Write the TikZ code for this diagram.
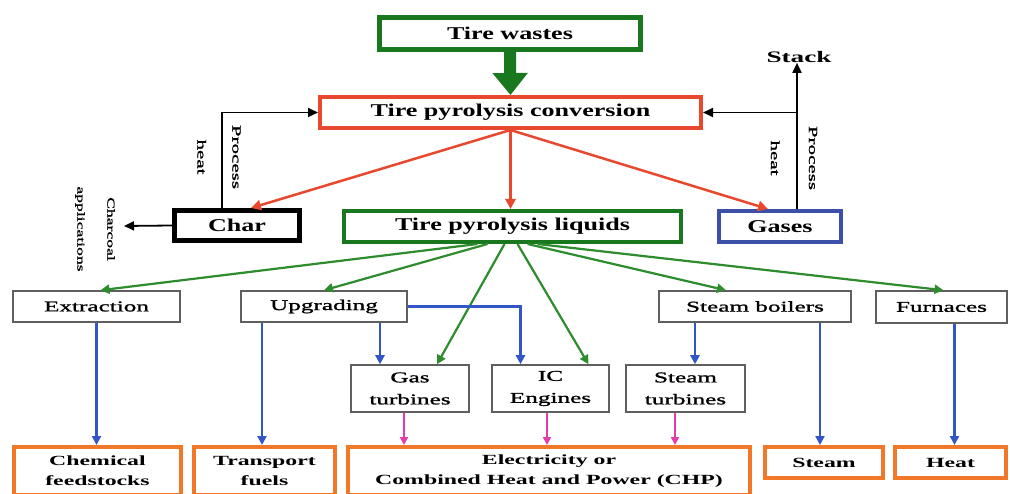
\documentclass[tikz,border=0pt]{standalone}
\usepackage{fontspec}
\setmainfont{Liberation Serif}
\newfontfamily\lowfont{Liberation Serif}[FakeStretch=1.7]
\newfontfamily\midfont{Liberation Serif}[FakeStretch=1.68, FakeBold=1.3]
\newfontfamily\topfont{Liberation Serif}[FakeStretch=1.45]
\usetikzlibrary{arrows.meta}
\definecolor{cgreen}{RGB}{25,120,30}
\definecolor{cbgreen}{RGB}{45,140,45}
\definecolor{cred}{RGB}{232,72,45}
\definecolor{cblue}{RGB}{60,80,170}
\definecolor{corange}{RGB}{240,120,40}
\definecolor{cpink}{RGB}{228,60,170}
\definecolor{carrblue}{RGB}{50,85,200}
\definecolor{cgray}{RGB}{95,95,95}
\tikzset{
  sz/.style 2 args={minimum width=#1pt, minimum height=#2pt},
  box/.style={draw, inner sep=0pt, align=center},
  topbox/.style={box, line width=4pt, font=\topfont\bfseries\fontsize{18}{20}\selectfont},
  midbox/.style={box, draw=cgray, line width=1.5pt, font=\midfont\fontsize{15}{22}\selectfont},
  botbox/.style={box, draw=corange, line width=4pt, font=\lowfont\bfseries\fontsize{14}{20}\selectfont},
  lbl/.style={inner sep=0pt, align=center},
  garr/.style={draw=cbgreen, line width=2.2pt, -{Triangle[length=9pt,width=9pt]}},
  rarr/.style={draw=cred, line width=2.5pt, -{Triangle[length=10pt,width=10pt]}},
  karr/.style={draw=black, line width=1.8pt, -{Triangle[length=10pt,width=9pt]}},
  barr/.style={draw=carrblue, line width=2.2pt, -{Triangle[length=9pt,width=9pt]}},
  parr/.style={draw=cpink, line width=2pt, -{Triangle[length=8pt,width=8pt]}},
}
\begin{document}
\begin{tikzpicture}[x=1pt, y=-1pt]
\useasboundingbox (0,0) rectangle (1010,494);
\fill[white] (0,0) rectangle (1010,494);
\clip (0,0) rectangle (1010,494);

% top level
\node[topbox, draw=cgreen, line width=5pt, sz={261}{32}] (tw) at (510,33.5) {Tire wastes};
\node[topbox, draw=cred, sz={381}{31}] (conv) at (510.5,112.5) {Tire pyrolysis conversion};
\node[topbox, draw=black, line width=5pt, sz={125}{30}] (char) at (237,225.5) {Char};
\node[topbox, draw=cgreen, sz={337}{31}] (liq) at (512.5,226.5) {Tire pyrolysis liquids};
\node[topbox, draw=cblue, sz={122}{31}] (gas) at (780,226.5) {Gases};

% second tier
\node[midbox, sz={167}{31}] (ext) at (96.5,306.5) {Extraction};
\node[midbox, sz={166}{31}] (upg) at (324,306.5) {Upgrading};
\node[midbox, sz={192}{31}] (sb) at (755,306.5) {Steam boilers};
\node[midbox, sz={131}{32}] (fur) at (941.5,307) {Furnaces};

% third tier
\node[midbox, sz={118}{47}] (gt) at (410,388.5) {Gas\\turbines};
\node[midbox, sz={117}{47}] (ic) at (550.5,388.5) {IC\\Engines};
\node[midbox, sz={119}{47}] (st) at (685.5,388.5) {Steam\\turbines};

% bottom
\node[botbox, sz={167}{48}] (chem) at (97.5,471) {Chemical\\feedstocks};
\node[botbox, sz={141}{48}] (tpf) at (264.5,471) {Transport\\fuels};
\node[botbox, sz={402}{48}] (elec) at (549,471) {Electricity or\\Combined Heat and Power (CHP)};
\node[botbox, sz={118}{31}] (steam) at (824,462.5) {Steam};
\node[botbox, sz={111}{31}] (heat) at (950.5,462.5) {Heat};

% labels
\node[lbl, font=\lowfont\bfseries\fontsize{16}{18}\selectfont] (stack) at (799,57) {Stack};
\node[lbl, rotate=-90, font=\midfont\fontsize{12.5}{35}\selectfont] (ph1) at (219,157) {Process\\heat};
\node[lbl, rotate=-90, font=\midfont\fontsize{12.5}{38}\selectfont] (ph2) at (794,158) {Process\\heat};
\node[lbl, rotate=-90, font=\midfont\fontsize{10.5}{30}\selectfont] (capl) at (95,229) {Charcoal\\applications};
\coordinate (capp) at (124,226);

% connectors
\draw[cgreen, line width=12pt, -{Triangle[length=22pt,width=34pt]}] (tw.south) -- (conv.north);

\draw[rarr] (conv.south) -- ([xshift=14pt]char.north);
\draw[rarr] (conv.south) -- (conv.south |- liq.north);
\draw[rarr] (conv.south) -- ([xshift=-12pt]gas.north);

\draw[karr] ([xshift=-15pt]char.north) |- (conv.west);
\draw[karr] ([xshift=17pt]gas.north) -- ([xshift=17pt]gas.north |- stack.south);
\draw[karr] ([xshift=17pt]gas.north |- conv.east) -- (conv.east);
\draw[karr] (char.west) -- (capp);

\draw[garr] ([xshift=-35pt]liq.south) -- ([xshift=4pt]ext.north);
\draw[garr] ([xshift=-25pt]liq.south) -- (upg.north);
\draw[garr] ([xshift=-8pt]liq.south) -- ([xshift=27pt]gt.north);
\draw[garr] ([xshift=5pt]liq.south) -- ([xshift=38pt]ic.north);
\draw[garr] ([xshift=15pt]liq.south) -- ([xshift=-29pt]sb.north);
\draw[garr] ([xshift=25pt]liq.south) -- ([xshift=2pt]fur.north);

\draw[barr] (ext.south) -- (ext.south |- chem.north);
\draw[barr] ([xshift=-62pt]upg.south) -- ([xshift=-62pt]upg.south |- tpf.north);
\draw[barr] ([xshift=56pt]upg.south) -- ([xshift=56pt]upg.south |- gt.north);
\draw[barr] (upg.east) -| ([xshift=-30pt]ic.north);
\draw[barr] ([xshift=-60pt]sb.south) -- ([xshift=-60pt]sb.south |- st.north);
\draw[barr] ([xshift=65pt]sb.south) -- ([xshift=65pt]sb.south |- steam.north);
\draw[barr] ([xshift=13pt]fur.south) -- ([xshift=13pt]fur.south |- heat.north);

\draw[parr] ([xshift=-6pt]gt.south) -- ([xshift=-6pt]gt.south |- elec.north);
\draw[parr] ([xshift=-3.5pt]ic.south) -- ([xshift=-3.5pt]ic.south |- elec.north);
\draw[parr] ([xshift=-10.5pt]st.south) -- ([xshift=-10.5pt]st.south |- elec.north);
\end{tikzpicture}
\end{document}
